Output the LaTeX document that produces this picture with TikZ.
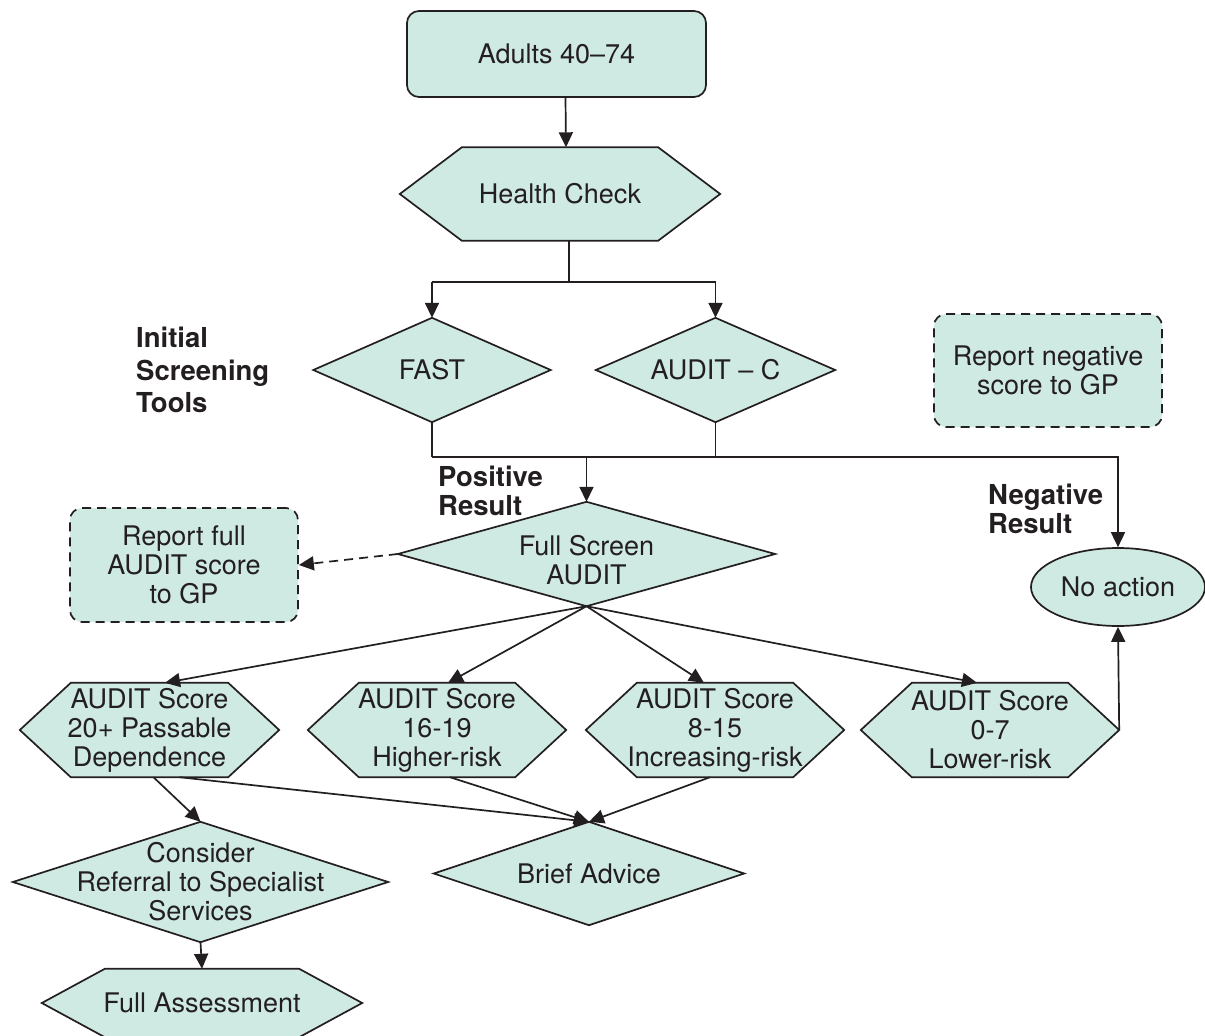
\documentclass[tikz,border=0pt]{standalone}
\usepackage{fontspec}
\setmainfont{TeX Gyre Heros}
\usetikzlibrary{shapes.geometric, arrows.meta, backgrounds, calc}

\definecolor{boxfill}{RGB}{207,233,227}
\definecolor{ink}{RGB}{35,31,32}

\tikzset{
  tag/.style={rectangle, inner sep=0pt, align=center, text=ink,
    font=\fontsize{27}{29}\selectfont},
  outline/.style={draw=ink, fill=boxfill, line width=1.7pt},
  card/.style={tag, outline, rounded corners=12pt},
  notecard/.style={card, dash pattern=on 9pt off 6pt},
  heading/.style={inner sep=0pt, align=left, text=ink,
    font=\fontsize{27.5}{28.5}\selectfont\bfseries},
  link/.style={draw=ink, line width=1.7pt},
  arr/.style={link, -{Triangle[length=15pt,width=14pt]}},
}

\begin{document}
\begin{tikzpicture}[x=1pt, y=-1pt]
\useasboundingbox (0,0) rectangle (1205,1036);

% top of the flow
\node[card, minimum width=299pt, minimum height=86pt] (adults) at (556.5,54) {Adults 40–74};
\node[tag, minimum width=320pt, minimum height=93pt] (hc) at (560,194) {Health Check};

% screening tools
\node[tag, minimum width=237pt, minimum height=104pt] (fast) at (432,370) {FAST};
\node[tag, minimum width=239pt, minimum height=104pt] (auditc) at (715.5,370) {AUDIT – C};
\node[notecard, minimum width=228pt, minimum height=113pt] (repneg) at (1048,370.5) {Report negative\\score to GP};

\node[heading, anchor=west, font=\fontsize{27.5}{32.5}\selectfont\bfseries] (inittools) at (136,370) {Initial\\Screening\\Tools};
\node[heading, anchor=west] (posres) at (438,491) {Positive\\Result};
\node[heading, anchor=west] (negres) at (988,509) {Negative\\Result};

% full screen
\node[tag, minimum width=377pt, minimum height=104pt] (fsa) at (586.5,554) {\rule{0pt}{31.5pt}Full Screen\\AUDIT};
\node[notecard, minimum width=228pt, minimum height=114pt] (repfull) at (184,565) {Report full\\AUDIT score\\to GP};
\node[tag, outline, ellipse, minimum width=174pt, minimum height=78pt] (nact) at (1118,587) {No action};

% score bands
\node[tag, minimum width=259pt, minimum height=94pt] (h20) at (149.5,730) {AUDIT Score\\20+ Passable\\Dependence};
\node[tag, minimum width=258pt, minimum height=94pt] (h16) at (437,730) {AUDIT Score\\16-19\\Higher-risk};
\node[tag, minimum width=258pt, minimum height=94pt] (h8) at (715,730) {AUDIT Score\\8-15\\Increasing-risk};
\node[tag, minimum width=258pt, minimum height=94pt] (h07) at (990,730) {AUDIT Score\\0-7\\Lower-risk};

% outcomes
\node[tag, minimum width=375pt, minimum height=120pt] (cons) at (200.5,882) {Consider\\Referral to Specialist\\Services};
\node[tag, minimum width=310pt, minimum height=103pt] (brief) at (589,873.5) {Brief Advice};
\node[tag, minimum width=320pt, minimum height=68pt] (fass) at (202,1003) {Full Assessment};

% hexagons and diamonds behind the text
\begin{scope}[on background layer]
\foreach \n/\d in {hc/62, h20/51, h16/51, h8/51, h07/51, fass/63}
  \path[outline] (\n.west) -- ([xshift=\d]\n.north west) -- ([xshift=-\d]\n.north east)
    -- (\n.east) -- ([xshift=-\d]\n.south east) -- ([xshift=\d]\n.south west) -- cycle;
\foreach \n in {fast, auditc, fsa, cons, brief}
  \path[outline] (\n.west) -- (\n.north) -- (\n.east) -- (\n.south) -- cycle;
\end{scope}

% connectors
\draw[arr] ([xshift=9pt]adults.south) -- ([xshift=6pt]hc.north);
\draw[link] ([xshift=9pt]hc.south) -- ++(0,41) coordinate (split);
\draw[link] (split -| fast.north) -- (split -| auditc.north);
\draw[arr] (split -| fast.north) -- (fast.north);
\draw[arr] (split -| auditc.north) -- (auditc.north);

\draw[link] (fast.south) -- ++(0,35) coordinate (merge);
\draw[link] (auditc.south) -- (auditc.south |- merge);
\draw[arr] (merge) -| (nact.north);
\draw[arr] (merge -| fsa.north) -- (fsa.north);

\draw[arr, dash pattern=on 9pt off 6pt] (fsa.west) -- (repfull.east);

\draw[arr] (fsa.south) -- ([xshift=15.5pt]h20.north);
\draw[arr] (fsa.south) -- ([xshift=11pt]h16.north);
\draw[arr] (fsa.south) -- ([xshift=-11pt]h8.north);
\draw[arr] (fsa.south) -- ([xshift=-13pt]h07.north);
\draw[arr] (h07.east) -- (nact.south);

\draw[arr] ([xshift=4pt]h20.south) -- (cons.north);
\draw[arr] ([xshift=30pt]h20.south) -- (brief.north);
\draw[arr] ([xshift=13pt]h16.south) -- (brief.north);
\draw[arr] ([xshift=-5pt]h8.south) -- (brief.north);
\draw[arr] (cons.south) -- (fass.north);

\end{tikzpicture}
\end{document}
